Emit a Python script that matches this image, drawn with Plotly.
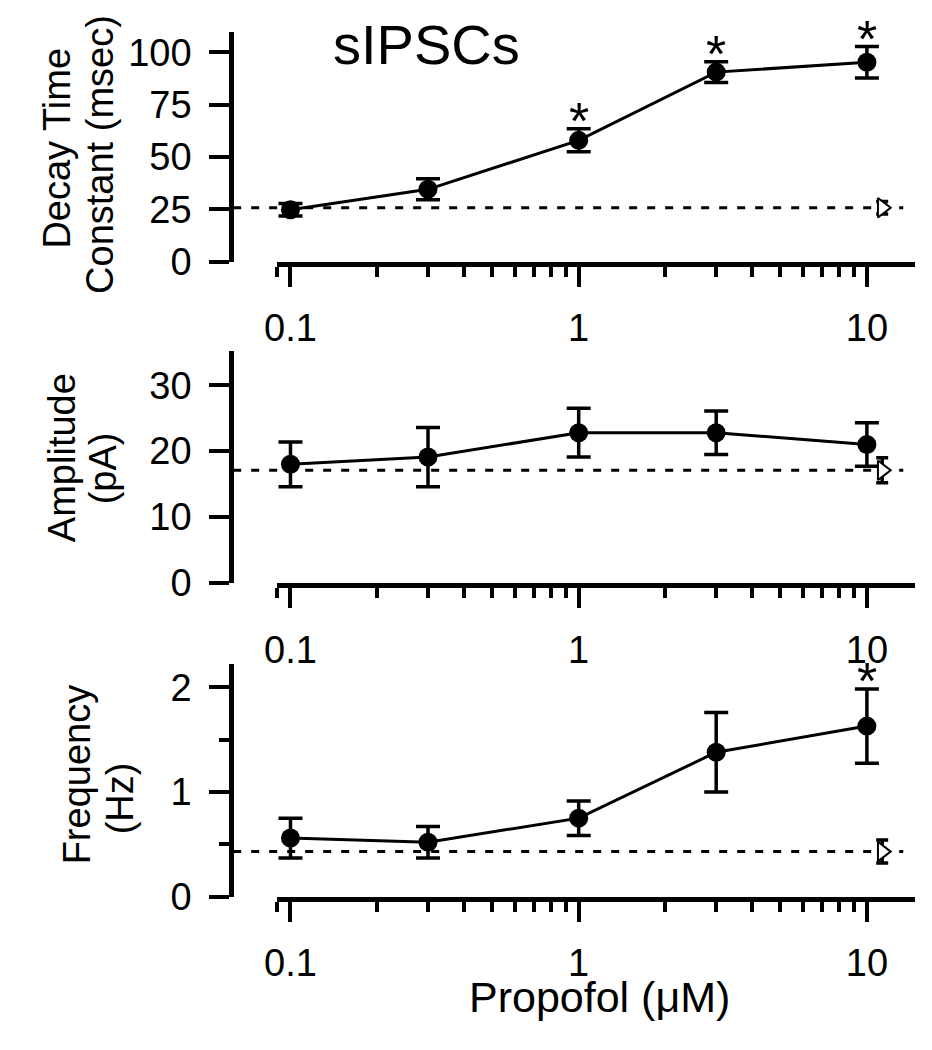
import math
import plotly.graph_objects as go

# ---------------- data ----------------
conc = [0.1, 0.3, 1, 3, 10]
tick_vals = [0.1, 1, 10]
tick_text = ["0.1", "1", "10"]
minor_vals = [0.09, 0.2, 0.3, 0.4, 0.5, 0.6, 0.7, 0.8, 0.9,
              2, 3, 4, 5, 6, 7, 8, 9]

decay_mean = [24.8, 34.6, 58.0, 90.6, 95.3]
decay_err = [3.0, 5.0, 5.5, 5.0, 7.5]
decay_sig = [False, False, True, True, True]
decay_ctrl = 25.8
decay_ctrl_err = 3.0

amp_mean = [18.0, 19.1, 22.8, 22.8, 21.0]
amp_err = [3.4, 4.5, 3.7, 3.3, 3.3]
amp_sig = [False, False, False, False, False]
amp_ctrl = 17.1
amp_ctrl_err = 1.9

freq_mean = [0.56, 0.52, 0.75, 1.38, 1.63]
freq_err = [0.19, 0.15, 0.165, 0.38, 0.355]
freq_sig = [False, False, False, False, True]
freq_ctrl = 0.43
freq_ctrl_err = 0.11

ctrl_x = 11.3

# ---------------- layout helpers ----------------
# the page body has an 8px margin: shrink the figure so the page stays
# 932x1050 and express every position in page pixels
PAGE_W, PAGE_H, OFF = 932, 1050, 8
W, H = PAGE_W - 2 * OFF, PAGE_H - 2 * OFF
FONT = "Liberation Sans, Arial, sans-serif"


def px(x):
    return (x - OFF) / W


def py(y):
    return 1 - (y - OFF) / H


x_dom = [px(268), px(915)]
x_rng = [math.log10(0.0895), math.log10(14.7)]
y_pos = px(222)

panels = [
    dict(mean=decay_mean, err=decay_err, sig=decay_sig, ctrl=decay_ctrl,
         cerr=decay_ctrl_err, dom=[py(267), py(32)], rng=[0, 110],
         ticks=[0, 25, 50, 75, 100], minor=None,
         titles=[("Decay Time", 46, 151), ("Constant (msec)", 89, 157)]),
    dict(mean=amp_mean, err=amp_err, sig=amp_sig, ctrl=amp_ctrl,
         cerr=amp_ctrl_err, dom=[py(595), py(358)], rng=[0, 35.2],
         ticks=[0, 10, 20, 30], minor=None,
         titles=[("Amplitude", 50, 467), ("(pA)", 93, 478)]),
    dict(mean=freq_mean, err=freq_err, sig=freq_sig, ctrl=freq_ctrl,
         cerr=freq_ctrl_err, dom=[py(915), py(678)], rng=[0, 2.22],
         ticks=[0, 1, 2], minor=[0.5, 1.5],
         titles=[("Frequency", 66, 790), ("(Hz)", 109, 815)]),
]

fig = go.Figure()
annotations = []
shapes = []

for i, p in enumerate(panels):
    n = "" if i == 0 else str(i + 1)
    xa, ya = "x" + n, "y" + n

    fig.add_trace(go.Scatter(
        x=conc, y=p["mean"], xaxis=xa, yaxis=ya, mode="lines+markers",
        line=dict(color="black", width=3),
        marker=dict(symbol="circle", size=19, color="black"),
        error_y=dict(type="data", array=p["err"], visible=True,
                     color="black", thickness=3.5, width=12),
        cliponaxis=False, showlegend=False))

    fig.add_trace(go.Scatter(
        x=[ctrl_x], y=[p["ctrl"]], xaxis=xa, yaxis=ya, mode="markers",
        marker=dict(symbol="triangle-right", size=17, color="white",
                    line=dict(color="black", width=2)),
        error_y=dict(type="data", array=[p["cerr"]], visible=True,
                     color="black", thickness=3.5, width=6),
        cliponaxis=False, showlegend=False))

    shapes.append(dict(type="line", xref="paper", yref=ya,
                       x0=px(224), x1=px(903), y0=p["ctrl"], y1=p["ctrl"],
                       line=dict(color="black", width=3, dash="8px,10px"),
                       layer="below"))

    for xv, m, e, s in zip(conc, p["mean"], p["err"], p["sig"]):
        if s:
            annotations.append(dict(
                x=math.log10(xv), y=m + e, xref=xa, yref=ya, text="*",
                showarrow=False, yanchor="middle", yshift=8,
                font=dict(family=FONT, size=52, color="black")))

    for txt, xpix, ypix in p["titles"]:
        annotations.append(dict(
            x=px(xpix), y=py(ypix), xref="paper", yref="paper", text=txt,
            textangle=-90, showarrow=False, xanchor="center",
            yanchor="middle", font=dict(family=FONT, size=38, color="black")))

    fig.update_layout(**{
        ("xaxis" + n): dict(
            type="log", domain=x_dom, range=x_rng, anchor=ya,
            tickmode="array", tickvals=tick_vals, ticktext=tick_text,
            ticks="outside", ticklen=20, tickwidth=4, tickcolor="black",
            showline=True, linewidth=5, linecolor="black",
            showgrid=False, zeroline=False, ticklabelstandoff=9,
            tickfont=dict(family=FONT, size=38, color="black"),
            minor=dict(tickmode="array", tickvals=minor_vals,
                       ticks="outside", ticklen=10, tickwidth=4,
                       tickcolor="black", showgrid=False)),
        ("yaxis" + n): dict(
            domain=p["dom"], range=p["rng"], anchor="free", position=y_pos,
            tickmode="array", tickvals=p["ticks"],
            ticks="outside", ticklen=20, tickwidth=4, tickcolor="black",
            showline=True, linewidth=5, linecolor="black",
            showgrid=False, zeroline=False, ticklabelstandoff=10,
            tickfont=dict(family=FONT, size=38, color="black"),
            minor=(dict(tickmode="array", tickvals=p["minor"],
                        ticks="outside", ticklen=10, tickwidth=4,
                        tickcolor="black", showgrid=False)
                   if p["minor"] else None)),
    })

annotations.append(dict(
    x=px(420), y=py(45), xref="paper", yref="paper", text="sIPSCs",
    showarrow=False, xanchor="center", yanchor="middle",
    font=dict(family=FONT, size=56, color="black")))
annotations.append(dict(
    x=px(595), y=py(1018), xref="paper", yref="paper", text="Propofol (μM)",
    showarrow=False, xanchor="center", yanchor="middle",
    font=dict(family=FONT, size=43, color="black")))

fig.update_layout(
    width=W, height=H, margin=dict(l=0, r=0, t=0, b=0),
    paper_bgcolor="white", plot_bgcolor="white",
    annotations=annotations, shapes=shapes, showlegend=False,
    font=dict(family=FONT, color="black"))

fig.write_html("out.html")
